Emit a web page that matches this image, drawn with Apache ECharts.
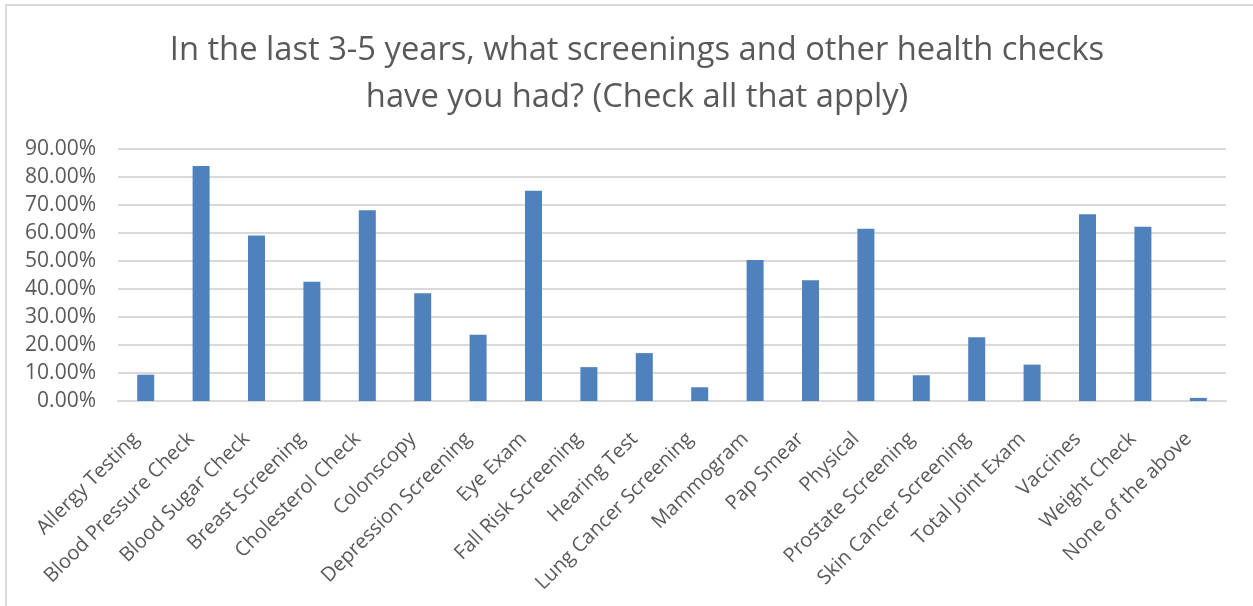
<!DOCTYPE html>
<html>
<head>
<meta charset="utf-8">
<script src="https://cdn.jsdelivr.net/npm/echarts@6/dist/echarts.min.js"></script>
<style>
  html, body { margin: 0; padding: 0; background: #fff; }
  #frame {
    position: absolute; left: 5px; top: 4px;
    width: 1300px; height: 700px;
    border: 2px solid #d9d9d9; box-sizing: border-box;
  }
  #chart { position: absolute; left: 0; top: 0; width: 1253px; height: 606px; }
</style>
</head>
<body>
<div id="frame"></div>
<div id="chart"></div>
<script>
// survey answers, share of respondents
const categories = [
  'Allergy Testing', 'Blood Pressure Check', 'Blood Sugar Check', 'Breast Screening',
  'Cholesterol Check', 'Colonscopy', 'Depression Screening', 'Eye Exam',
  'Fall Risk Screening', 'Hearing Test', 'Lung Cancer Screening', 'Mammogram',
  'Pap Smear', 'Physical', 'Prostate Screening', 'Skin Cancer Screening',
  'Total Joint Exam', 'Vaccines', 'Weight Check', 'None of the above'
];
const shares = [
  0.094, 0.839, 0.591, 0.426, 0.681, 0.385, 0.237, 0.751,
  0.121, 0.171, 0.049, 0.504, 0.431, 0.615, 0.092, 0.228,
  0.130, 0.667, 0.622, 0.011
];
const yTicks = [0, 0.1, 0.2, 0.3, 0.4, 0.5, 0.6, 0.7, 0.8, 0.9];

const chart = echarts.init(document.getElementById('chart'));

const option = {
  animation: false,
  title: {
    text: 'In the last 3-5 years, what screenings and other health checks\nhave you had? (Check all that apply)',
    left: 632,
    textAlign: 'center',
    top: 22,
    textStyle: {
      fontFamily: 'Open Sans',
      fontSize: 32.7,
      fontWeight: 'normal',
      color: '#595959',
      lineHeight: 47
    }
  },
  grid: {
    left: 118,
    right: 27,
    top: 149,
    bottom: 205
  },
  xAxis: {
    type: 'category',
    data: categories,
    axisLine: { lineStyle: { color: '#d9d9d9', width: 2 } },
    axisTick: { show: false },
    axisLabel: {
      interval: 0,
      rotate: 45,
      margin: 25,
      padding: [0, 14, 0, 0],
      fontFamily: 'Open Sans',
      fontSize: 20,
      color: '#595959'
    }
  },
  yAxis: {
    type: 'value',
    min: 0,
    max: yTicks[yTicks.length - 1],
    interval: 0.1,
    axisLine: { show: false },
    axisTick: { show: false },
    splitLine: { lineStyle: { color: '#d9d9d9', width: 2 } },
    axisLabel: {
      margin: 22,
      fontFamily: 'Open Sans',
      fontSize: 21,
      color: '#595959',
      formatter: v => (v * 100).toFixed(2) + '%'
    }
  },
  series: [
    {
      type: 'bar',
      data: shares,
      barWidth: 17,
      itemStyle: { color: '#4f81bd' }
    }
  ]
};

chart.setOption(option);
</script>
</body>
</html>
